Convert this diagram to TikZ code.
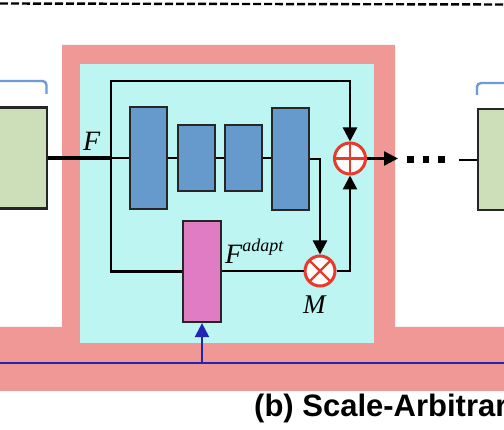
\documentclass[tikz,border=0pt]{standalone}
\usepackage{fontspec}
\setmainfont{Liberation Serif}
\newfontfamily\capfont{Liberation Sans}
\usetikzlibrary{arrows.meta}
\definecolor{pinkbg}{HTML}{F09896}
\definecolor{cyanbg}{HTML}{BCF5F2}
\definecolor{boxblue}{HTML}{6699CC}
\definecolor{boxgreen}{HTML}{CCDFB8}
\definecolor{boxmag}{HTML}{E07CC4}
\definecolor{opred}{HTML}{E8392B}
\definecolor{lineblue}{HTML}{2525B5}
\definecolor{bracketblue}{HTML}{6C9BD6}
\begin{document}
\begin{tikzpicture}[x=1pt,y=-1pt,
  blk/.style={draw=black!85, line width=2.2pt, inner sep=0pt, minimum width=37pt},
  bluebox/.style={blk, fill=boxblue},
  greenbox/.style={blk, fill=boxgreen, minimum width=52pt, minimum height=101pt},
  magbox/.style={blk, fill=boxmag, minimum width=38pt, minimum height=101pt},
  conn/.style={line width=2.4pt, black},
  arr/.style={conn, -{Triangle[length=14pt,width=14pt]}},
  plusop/.style={circle, draw=opred, line width=3pt, fill=white, minimum size=31pt, inner sep=0pt,
    path picture={\draw[opred, line width=2.4pt] (path picture bounding box.north) -- (path picture bounding box.south)
      (path picture bounding box.west) -- (path picture bounding box.east);}},
  timesop/.style={circle, draw=opred, line width=3pt, fill=white, minimum size=30pt, inner sep=0pt,
    path picture={\draw[opred, line width=2.4pt] (path picture bounding box.north west) -- (path picture bounding box.south east)
      (path picture bounding box.north east) -- (path picture bounding box.south west);}},
  dotsq/.style={fill=black, minimum width=6.5pt, minimum height=7pt, inner sep=0pt},
  lbl/.style={inner sep=0pt, anchor=base west, font=\itshape\fontsize{28}{28}\selectfont},
  bracket/.style={bracketblue, line width=2.4pt, rounded corners=4pt}
]
\useasboundingbox (0,0) rectangle (504,430);
\clip (0,0) rectangle (504,430);

% top dashed separator
\draw[line width=2.4pt, dash pattern=on 8pt off 3pt] (0,3.5) -- (504,4.5);

% backgrounds
\fill[pinkbg] (62,45) -- (395,45) -- (395,327) -- (504,327) -- (504,391) -- (0,391) -- (0,327) -- (62,327) -- cycle;
\fill[cyanbg] (80,64) rectangle (374,343);

% brackets
\draw[bracket] (-3,81) -- (46.5,81) -- (46.5,94);
\draw[bracket] (477,95) -- (477,83) -- (508,83);

% nodes
\node[greenbox] (gL) at (21,158) {};
\node[greenbox] (gR) at (504,159.5) {};
\node[bluebox, minimum height=102pt] (b1) at (148.5,158) {};
\node[bluebox, minimum height=66pt] (b2) at (196.5,158) {};
\node[bluebox, minimum height=66pt] (b3) at (243.5,158) {};
\node[bluebox, minimum height=102pt] (b4) at (290.5,159) {};
\node[magbox] (mag) at (202,271.5) {};
\node[plusop] (plus) at (350,158.5) {};
\node[timesop] (times) at (320,271) {};
\node[dotsq] (d1) at (410.5,159.5) {};
\node[dotsq] (d2) at (426,159.5) {};
\node[dotsq] (d3) at (441.7,159.5) {};

\coordinate (split) at (111,158);
\coordinate (topcorner) at (111,81);
\coordinate (outend) at (398,158.5);
\coordinate (rin) at (459,160);
\coordinate (tapin) at (202,363);

% connectors
\draw[conn, line width=3.2pt] (gL.east) -- (split);
\draw[conn] (split) -- (b1.west);
\draw[conn] (b1.east) -- (b2.west);
\draw[conn] (b2.east) -- (b3.west);
\draw[conn] (b3.east) -- (b4.west |- b3.east);
\draw[arr] (split) -- (topcorner) -| (plus.north);
\draw[conn] (split) |- (mag.west);
\draw[conn] (mag.east |- times.west) -- (times.west);
\draw[arr] (b4.east) -| (times.north);
\draw[arr] (times.east) -| (plus.south);
\draw[arr] (plus.east) -- (outend);
\draw[conn] (rin) -- (gR.west |- rin);

% blue line
\draw[lineblue, line width=2.2pt] (0,363) -- (504,363);
\draw[lineblue, line width=2.2pt, -{Triangle[length=14pt,width=14pt]}] (tapin) -- (mag.south);

% labels
\node[lbl] (lF) at (83,150.5) {F};
\node[lbl] (lFa) at (225,263.5) {F\raisebox{11.5pt}{\fontsize{18}{18}\selectfont adapt}};
\node[lbl, font=\itshape\fontsize{27}{27}\selectfont] (lM) at (303,314) {M};
\node[inner sep=0pt, anchor=base west, font=\capfont\bfseries\fontsize{31}{31}\selectfont] (cap) at (254,417) {(b) Scale-Arbitrar};
\end{tikzpicture}
\end{document}
